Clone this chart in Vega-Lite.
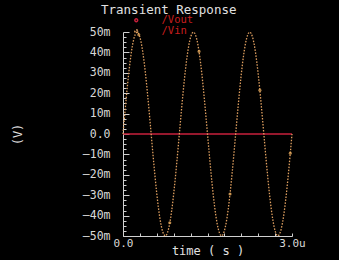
{
  "$schema": "https://vega.github.io/schema/vega-lite/v6.json",
  "width": 169,
  "height": 204,
  "autosize": "none",
  "padding": {"left": 123, "top": 32, "right": 47, "bottom": 24},
  "background": "#000000",
  "config": {"view": {"stroke": null}, "font": "DejaVu Sans Mono", "axis": {"labelOverlap": false, "grid": false, "domainColor": "#d0d0d0", "tickColor": "#d0d0d0", "labelColor": "#d8d8d8", "labelFont": "DejaVu Sans Mono", "titleColor": "#e0e0e0", "titleFont": "DejaVu Sans Mono", "titleFontWeight": "normal", "titleFontSize": 12}},
  "title": {"text": "Transient Response", "anchor": "start", "frame": "group", "dx": -22, "offset": 0, "dy": 14, "baseline": "bottom", "color": "#e0e0e0", "fontSize": 12.5, "fontWeight": "normal", "font": "DejaVu Sans Mono"},
  "resolve": {"axis": {"x": "independent", "y": "independent"}},
  "datasets": {
    "markers": [
      {"t": 0.28, "v": 48.6, "s": "/Vin"},
      {"t": 1.35, "v": 40.5, "s": "/Vin"},
      {"t": 2.43, "v": 21.5, "s": "/Vin"},
      {"t": 0.83, "v": -43.5, "s": "/Vin"},
      {"t": 1.9, "v": -29.4, "s": "/Vin"},
      {"t": 2.97, "v": -9.4, "s": "/Vin"}
    ]
  },
  "data": {"values": [
    {"t": 0, "v": 0, "s": "/Vout"}, {"t": 3.0, "v": 0, "s": "/Vout"},
    {"t": 0, "v": 0, "s": "/Vin"}, {"t": 0.025, "v": 7.82, "s": "/Vin"}, {"t": 0.05, "v": 15.45, "s": "/Vin"}, {"t": 0.075, "v": 22.7, "s": "/Vin"}, {"t": 0.1, "v": 29.39, "s": "/Vin"}, {"t": 0.125, "v": 35.36, "s": "/Vin"}, {"t": 0.15, "v": 40.45, "s": "/Vin"}, {"t": 0.175, "v": 44.55, "s": "/Vin"}, {"t": 0.2, "v": 47.55, "s": "/Vin"}, {"t": 0.225, "v": 49.38, "s": "/Vin"},
    {"t": 0.25, "v": 50, "s": "/Vin"}, {"t": 0.275, "v": 49.38, "s": "/Vin"}, {"t": 0.3, "v": 47.55, "s": "/Vin"}, {"t": 0.325, "v": 44.55, "s": "/Vin"}, {"t": 0.35, "v": 40.45, "s": "/Vin"}, {"t": 0.375, "v": 35.36, "s": "/Vin"}, {"t": 0.4, "v": 29.39, "s": "/Vin"}, {"t": 0.425, "v": 22.7, "s": "/Vin"}, {"t": 0.45, "v": 15.45, "s": "/Vin"}, {"t": 0.475, "v": 7.82, "s": "/Vin"},
    {"t": 0.5, "v": 0, "s": "/Vin"}, {"t": 0.525, "v": -7.82, "s": "/Vin"}, {"t": 0.55, "v": -15.45, "s": "/Vin"}, {"t": 0.575, "v": -22.7, "s": "/Vin"}, {"t": 0.6, "v": -29.39, "s": "/Vin"}, {"t": 0.625, "v": -35.36, "s": "/Vin"}, {"t": 0.65, "v": -40.45, "s": "/Vin"}, {"t": 0.675, "v": -44.55, "s": "/Vin"}, {"t": 0.7, "v": -47.55, "s": "/Vin"}, {"t": 0.725, "v": -49.38, "s": "/Vin"},
    {"t": 0.75, "v": -50, "s": "/Vin"}, {"t": 0.775, "v": -49.38, "s": "/Vin"}, {"t": 0.8, "v": -47.55, "s": "/Vin"}, {"t": 0.825, "v": -44.55, "s": "/Vin"}, {"t": 0.85, "v": -40.45, "s": "/Vin"}, {"t": 0.875, "v": -35.36, "s": "/Vin"}, {"t": 0.9, "v": -29.39, "s": "/Vin"}, {"t": 0.925, "v": -22.7, "s": "/Vin"}, {"t": 0.95, "v": -15.45, "s": "/Vin"}, {"t": 0.975, "v": -7.82, "s": "/Vin"},
    {"t": 1.0, "v": 0, "s": "/Vin"}, {"t": 1.025, "v": 7.82, "s": "/Vin"}, {"t": 1.05, "v": 15.45, "s": "/Vin"}, {"t": 1.075, "v": 22.7, "s": "/Vin"}, {"t": 1.1, "v": 29.39, "s": "/Vin"}, {"t": 1.125, "v": 35.36, "s": "/Vin"}, {"t": 1.15, "v": 40.45, "s": "/Vin"}, {"t": 1.175, "v": 44.55, "s": "/Vin"}, {"t": 1.2, "v": 47.55, "s": "/Vin"}, {"t": 1.225, "v": 49.38, "s": "/Vin"},
    {"t": 1.25, "v": 50, "s": "/Vin"}, {"t": 1.275, "v": 49.38, "s": "/Vin"}, {"t": 1.3, "v": 47.55, "s": "/Vin"}, {"t": 1.325, "v": 44.55, "s": "/Vin"}, {"t": 1.35, "v": 40.45, "s": "/Vin"}, {"t": 1.375, "v": 35.36, "s": "/Vin"}, {"t": 1.4, "v": 29.39, "s": "/Vin"}, {"t": 1.425, "v": 22.7, "s": "/Vin"}, {"t": 1.45, "v": 15.45, "s": "/Vin"}, {"t": 1.475, "v": 7.82, "s": "/Vin"},
    {"t": 1.5, "v": 0, "s": "/Vin"}, {"t": 1.525, "v": -7.82, "s": "/Vin"}, {"t": 1.55, "v": -15.45, "s": "/Vin"}, {"t": 1.575, "v": -22.7, "s": "/Vin"}, {"t": 1.6, "v": -29.39, "s": "/Vin"}, {"t": 1.625, "v": -35.36, "s": "/Vin"}, {"t": 1.65, "v": -40.45, "s": "/Vin"}, {"t": 1.675, "v": -44.55, "s": "/Vin"}, {"t": 1.7, "v": -47.55, "s": "/Vin"}, {"t": 1.725, "v": -49.38, "s": "/Vin"},
    {"t": 1.75, "v": -50, "s": "/Vin"}, {"t": 1.775, "v": -49.38, "s": "/Vin"}, {"t": 1.8, "v": -47.55, "s": "/Vin"}, {"t": 1.825, "v": -44.55, "s": "/Vin"}, {"t": 1.85, "v": -40.45, "s": "/Vin"}, {"t": 1.875, "v": -35.36, "s": "/Vin"}, {"t": 1.9, "v": -29.39, "s": "/Vin"}, {"t": 1.925, "v": -22.7, "s": "/Vin"}, {"t": 1.95, "v": -15.45, "s": "/Vin"}, {"t": 1.975, "v": -7.82, "s": "/Vin"},
    {"t": 2.0, "v": 0, "s": "/Vin"}, {"t": 2.025, "v": 7.82, "s": "/Vin"}, {"t": 2.05, "v": 15.45, "s": "/Vin"}, {"t": 2.075, "v": 22.7, "s": "/Vin"}, {"t": 2.1, "v": 29.39, "s": "/Vin"}, {"t": 2.125, "v": 35.36, "s": "/Vin"}, {"t": 2.15, "v": 40.45, "s": "/Vin"}, {"t": 2.175, "v": 44.55, "s": "/Vin"}, {"t": 2.2, "v": 47.55, "s": "/Vin"}, {"t": 2.225, "v": 49.38, "s": "/Vin"},
    {"t": 2.25, "v": 50, "s": "/Vin"}, {"t": 2.275, "v": 49.38, "s": "/Vin"}, {"t": 2.3, "v": 47.55, "s": "/Vin"}, {"t": 2.325, "v": 44.55, "s": "/Vin"}, {"t": 2.35, "v": 40.45, "s": "/Vin"}, {"t": 2.375, "v": 35.36, "s": "/Vin"}, {"t": 2.4, "v": 29.39, "s": "/Vin"}, {"t": 2.425, "v": 22.7, "s": "/Vin"}, {"t": 2.45, "v": 15.45, "s": "/Vin"}, {"t": 2.475, "v": 7.82, "s": "/Vin"},
    {"t": 2.5, "v": 0, "s": "/Vin"}, {"t": 2.525, "v": -7.82, "s": "/Vin"}, {"t": 2.55, "v": -15.45, "s": "/Vin"}, {"t": 2.575, "v": -22.7, "s": "/Vin"}, {"t": 2.6, "v": -29.39, "s": "/Vin"}, {"t": 2.625, "v": -35.36, "s": "/Vin"}, {"t": 2.65, "v": -40.45, "s": "/Vin"}, {"t": 2.675, "v": -44.55, "s": "/Vin"}, {"t": 2.7, "v": -47.55, "s": "/Vin"}, {"t": 2.725, "v": -49.38, "s": "/Vin"},
    {"t": 2.75, "v": -50, "s": "/Vin"}, {"t": 2.775, "v": -49.38, "s": "/Vin"}, {"t": 2.8, "v": -47.55, "s": "/Vin"}, {"t": 2.825, "v": -44.55, "s": "/Vin"}, {"t": 2.85, "v": -40.45, "s": "/Vin"}, {"t": 2.875, "v": -35.36, "s": "/Vin"}, {"t": 2.9, "v": -29.39, "s": "/Vin"}, {"t": 2.925, "v": -22.7, "s": "/Vin"}, {"t": 2.95, "v": -15.45, "s": "/Vin"}, {"t": 2.975, "v": -7.82, "s": "/Vin"},
    {"t": 3.0, "v": 0, "s": "/Vin"}
  ]},
  "layer": [
    {
      "mark": {"type": "line", "strokeWidth": 1.3, "clip": false},
      "encoding": {
        "x": {"field": "t", "type": "quantitative", "scale": {"domain": [0, 3], "nice": false},
          "axis": {"title": "time ( s )", "values": [0, 3],
            "labelExpr": "datum.value == 0 ? '0.0' : '3.0u'",
            "labelFlush": false, "labelOverlap": false,
            "tickSize": -3, "labelPadding": 4, "labelFontSize": 11,
            "titleY": 14, "titleBaseline": "middle"}},
        "y": {"field": "v", "type": "quantitative", "scale": {"domain": [-50, 50], "nice": false},
          "axis": {"title": "(V)", "values": [-50, -40, -30, -20, -10, 0, 10, 20, 30, 40, 50],
            "labelExpr": "datum.value == 0 ? '0.0' : (datum.value < 0 ? '—' + abs(datum.value) : datum.value) + 'm'",
            "labelFontSize": 11.5, "labelOverlap": false, "labelFlush": false,
            "tickSize": -6, "labelPadding": 19,
            "titleX": -106, "titleY": 102, "titleAngle": -90, "titleAlign": "center", "titleBaseline": "middle"}},
        "color": {"field": "s", "type": "nominal",
          "scale": {"domain": ["/Vout", "/Vin"], "range": ["#c8203c", "#e0a060"]},
          "legend": {"title": null, "orient": "none", "legendX": 8, "legendY": -17, "direction": "vertical",
            "labelColor": "#c81e1e", "labelFontSize": 10.5, "labelFont": "DejaVu Sans Mono", "labelOffset": 20,
            "symbolType": "circle", "symbolSize": 8, "rowPadding": -1}},
        "strokeDash": {"field": "s", "type": "nominal", "scale": {"domain": ["/Vout", "/Vin"], "range": [[1, 0], [1.5, 1.5]]}, "legend": null}
      }
    },
    {
      "data": {"name": "markers"},
      "mark": {"type": "point", "filled": true, "size": 10, "color": "#f0b060"},
      "encoding": {
        "x": {"field": "t", "type": "quantitative",
          "axis": {"orient": "bottom", "values": [0.3, 0.6, 0.9, 1.2, 1.5, 1.8, 2.1, 2.4, 2.7], "labels": false, "domain": false, "title": null, "tickSize": -3}},
        "y": {"field": "v", "type": "quantitative",
          "axis": {"orient": "left", "values": [-47.5, -45, -42.5, -37.5, -35, -32.5, -27.5, -25, -22.5, -17.5, -15, -12.5, -7.5, -5, -2.5, 2.5, 5, 7.5, 12.5, 15, 17.5, 22.5, 25, 27.5, 32.5, 35, 37.5, 42.5, 45, 47.5], "labels": false, "domain": false, "title": null, "tickSize": -3}}
      }
    }
  ]
}
